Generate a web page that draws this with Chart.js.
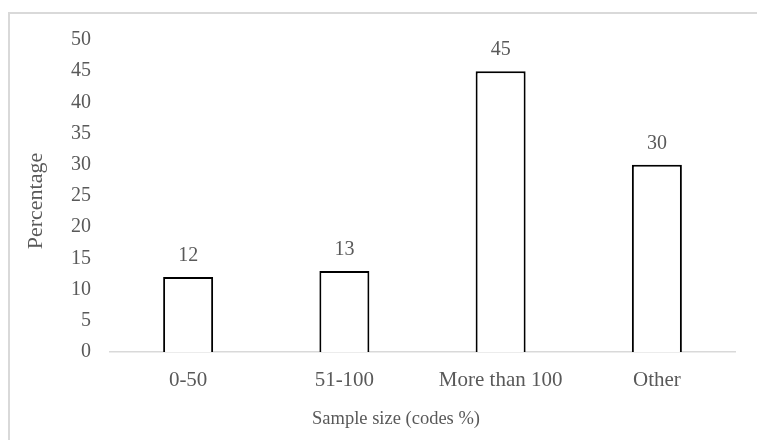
<!DOCTYPE html>
<html lang="en">
  <head>
    <meta charset="UTF-8" />
    <title>Sample size</title>
    <script src="https://cdn.jsdelivr.net/npm/chart.js"></script>
    <style>
      body {
        margin: 0;
        background-color: #ffffff;
      }
      #wrap {
        position: relative;
        width: 757px;
        height: 440px;
        overflow: hidden;
      }
      #frame {
        position: absolute;
        left: 8px;
        top: 12px;
        width: 800px;
        height: 500px;
        border-top: 2px solid #d9d9d9;
        border-left: 2px solid #d9d9d9;
      }
      canvas {
        position: absolute;
        left: 0;
        top: 0;
      }
    </style>
  </head>
  <body>
    <div id="wrap">
      <div id="frame"></div>
      <canvas id="myChart" width="757" height="440"></canvas>
    </div>

    <script>
      var categories = ['0-50', '51-100', 'More than 100', 'Other'];
      var percentages = [12, 13, 45, 30];
      var yTicks = [0, 5, 10, 15, 20, 25, 30, 35, 40, 45, 50];

      var textColor = '#595959';
      var serif = "'Liberation Serif', 'Times New Roman', serif";

      // value labels above each bar + the two axis titles
      var extraText = {
        id: 'extraText',
        afterDatasetsDraw: function (chart) {
          var ctx = chart.ctx;
          var meta = chart.getDatasetMeta(0);
          ctx.save();
          ctx.fillStyle = textColor;
          ctx.textAlign = 'center';

          ctx.font = '20px ' + serif;
          ctx.textBaseline = 'alphabetic';
          meta.data.forEach(function (bar, i) {
            ctx.fillText(String(percentages[i]), bar.x, bar.y - 16);
          });

          ctx.font = '18.5px ' + serif;
          ctx.textBaseline = 'middle';
          ctx.fillText('Sample size (codes %)', 396, 419);

          ctx.translate(36, 201);
          ctx.rotate(-Math.PI / 2);
          ctx.font = '22px ' + serif;
          ctx.fillText('Percentage', 0, 0);
          ctx.restore();
        }
      };

      var myChart = new Chart(document.getElementById('myChart').getContext('2d'), {
        type: 'bar',
        data: {
          labels: categories,
          datasets: [{
            data: percentages,
            backgroundColor: '#ffffff',
            borderColor: '#000000',
            borderWidth: 2,
            borderSkipped: 'start',
            categoryPercentage: 1,
            barPercentage: 0.32
          }]
        },
        options: {
          responsive: false,
          animation: false,
          layout: {
            padding: { left: 0, right: 22, top: 40, bottom: 0 }
          },
          plugins: {
            legend: { display: false },
            tooltip: { enabled: false }
          },
          scales: {
            x: {
              grid: { display: false },
              border: { display: true, color: '#d9d9d9', width: 1.5 },
              ticks: {
                color: textColor,
                font: { family: serif, size: 21 },
                padding: 8
              },
              afterFit: function (scale) { scale.height = 88; }
            },
            y: {
              min: 0,
              max: 50,
              grid: { display: false },
              border: { display: false },
              afterBuildTicks: function (scale) {
                scale.ticks = yTicks.map(function (v) { return { value: v }; });
              },
              ticks: {
                color: textColor,
                font: { family: serif, size: 20 },
                padding: 11
              },
              afterFit: function (scale) { scale.width = 110; }
            }
          }
        },
        plugins: [extraText]
      });
    </script>
  </body>
</html>
